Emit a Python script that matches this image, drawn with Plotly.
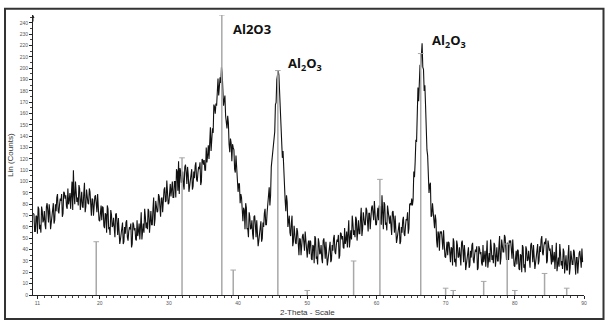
import plotly.graph_objects as go

# --- scan (2-theta start/step and counts), one row per degree ---
two_theta_start = 10.4
two_theta_step = 0.1
counts = [
    72, 71, 56, 56, 70, 69, 54, 78, 76, 58,
    62, 55, 78, 74, 64, 66, 74, 62, 58, 78,
    81, 74, 64, 80, 73, 58, 64, 70, 78, 81,
    63, 66, 80, 74, 86, 89, 74, 72, 80, 85,
    83, 89, 69, 72, 91, 90, 85, 88, 78, 76,
    94, 80, 84, 90, 76, 96, 100, 75, 110, 88,
    80, 100, 93, 82, 86, 79, 97, 94, 75, 83,
    91, 78, 77, 90, 99, 73, 78, 93, 86, 81,
    80, 94, 91, 75, 70, 85, 84, 70, 87, 87,
    88, 74, 73, 89, 76, 66, 65, 76, 79, 66,
    78, 77, 61, 59, 72, 71, 55, 79, 76, 58,
    60, 53, 75, 71, 60, 61, 68, 56, 51, 71,
    72, 64, 53, 68, 60, 45, 49, 54, 62, 64,
    45, 47, 60, 54, 64, 66, 51, 48, 56, 60,
    58, 63, 42, 45, 64, 62, 57, 59, 49, 48,
    66, 52, 56, 63, 49, 70, 73, 49, 56, 63,
    55, 76, 69, 59, 64, 58, 76, 74, 55, 64,
    74, 62, 62, 76, 86, 61, 67, 83, 77, 73,
    74, 89, 87, 72, 69, 85, 86, 73, 92, 93,
    95, 82, 83, 101, 89, 80, 81, 93, 98, 87,
    100, 100, 86, 86, 100, 100, 86, 111, 109, 92,
    118, 89, 112, 109, 99, 101, 109, 97, 93, 113,
    115, 108, 98, 113, 106, 91, 96, 101, 109, 111,
    93, 96, 109, 103, 114, 117, 102, 100, 108, 113,
    111, 117, 97, 100, 120, 119, 115, 119, 110, 110,
    130, 117, 123, 132, 120, 143, 148, 127, 137, 147,
    143, 168, 166, 160, 169, 167, 190, 191, 176, 187,
    192, 187, 201, 196, 183, 167, 172, 176, 158, 153,
    147, 158, 152, 133, 126, 138, 134, 118, 133, 130,
    128, 111, 108, 123, 109, 95, 91, 98, 98, 81,
    89, 86, 68, 65, 77, 75, 58, 81, 77, 58,
    59, 51, 73, 69, 58, 59, 66, 54, 49, 69,
    70, 62, 51, 66, 58, 43, 48, 54, 62, 65,
    47, 50, 64, 60, 72, 76, 62, 62, 73, 82,
    85, 95, 79, 88, 113, 119, 121, 133, 133, 144,
    168, 170, 190, 196, 198, 194, 182, 160, 158, 145,
    121, 127, 106, 88, 84, 74, 88, 82, 60, 65,
    70, 55, 52, 63, 70, 43, 47, 61, 52, 46,
    45, 59, 56, 40, 35, 50, 49, 35, 52, 52,
    54, 40, 39, 56, 44, 34, 33, 44, 48, 36,
    48, 47, 32, 31, 44, 43, 28, 52, 50, 32,
    34, 27, 50, 46, 36, 37, 44, 32, 28, 48,
    50, 42, 32, 47, 40, 26, 31, 36, 44, 47,
    29, 31, 44, 39, 50, 53, 38, 36, 44, 49,
    47, 53, 32, 35, 55, 54, 49, 52, 42, 41,
    59, 45, 49, 56, 42, 63, 66, 42, 50, 57,
    49, 70, 63, 53, 57, 51, 69, 67, 48, 57,
    66, 54, 54, 68, 77, 52, 58, 73, 66, 62,
    62, 77, 75, 60, 56, 72, 72, 58, 76, 77,
    79, 66, 66, 83, 71, 62, 62, 73, 77, 66,
    79, 78, 63, 62, 88, 74, 58, 82, 80, 62,
    64, 57, 79, 74, 63, 63, 70, 58, 53, 73,
    74, 66, 55, 70, 62, 46, 50, 55, 62, 64,
    45, 47, 60, 55, 66, 69, 54, 52, 61, 67,
    66, 73, 54, 59, 80, 81, 79, 85, 79, 84,
    109, 104, 118, 137, 135, 168, 183, 171, 190, 203,
    201, 215, 222, 201, 199, 180, 185, 167, 133, 128,
    123, 100, 90, 97, 99, 69, 70, 81, 70, 62,
    59, 71, 66, 48, 42, 56, 54, 39, 56, 55,
    56, 41, 40, 57, 44, 34, 33, 44, 47, 35,
    47, 46, 30, 29, 42, 41, 26, 50, 47, 29,
    32, 25, 48, 44, 33, 34, 42, 30, 26, 46,
    48, 40, 29, 44, 37, 22, 27, 32, 40, 42,
    24, 26, 39, 33, 44, 46, 31, 28, 36, 40,
    38, 43, 22, 24, 43, 41, 36, 38, 28, 26,
    44, 29, 33, 39, 25, 45, 48, 24, 31, 37,
    29, 49, 42, 31, 35, 28, 46, 44, 25, 33,
    42, 30, 30, 43, 52, 27, 33, 49, 42, 38,
    38, 53, 51, 35, 31, 46, 45, 31, 48, 47,
    48, 33, 32, 49, 36, 26, 25, 36, 39, 27,
    40, 39, 23, 22, 36, 35, 20, 44, 42, 24,
    27, 20, 43, 40, 30, 31, 39, 28, 24, 44,
    46, 39, 29, 44, 37, 23, 28, 34, 42, 45,
    27, 30, 43, 38, 49, 52, 37, 35, 43, 47,
    45, 50, 28, 30, 48, 45, 39, 41, 30, 27,
    44, 29, 32, 38, 23, 43, 46, 21, 27, 33,
    25, 45, 37, 26, 30, 23, 41, 38, 19, 27,
    35, 22, 22, 35, 44, 18, 24, 39, 32, 27,
    27, 40, 38, 22, 18, 33, 33, 19, 37, 37,
    39, 25, 24, 41, 29,
]
two_theta = [round(two_theta_start + two_theta_step * i, 2) for i in range(len(counts))]

# --- reference pattern sticks ---
stick_pos = [19.5, 31.9, 37.65, 39.3, 45.75, 50.0, 56.7, 60.5, 66.4, 70.0, 71.1, 75.5, 78.9, 80.0, 84.3, 87.5]
stick_height = [47, 121, 247, 22, 198, 4, 30, 102, 213, 6, 4, 12, 45, 4, 19, 6]

# --- labels ---
label_texts = ["Al2O3", "Al<sub>2</sub>O<sub>3</sub>", "Al<sub>2</sub>O<sub>3</sub>"]
label_x = [38.95, 46.9, 67.7]
label_y = [235, 203.5, 223.8]

x_ticks = [11, 20, 30, 40, 50, 60, 70, 80, 90]
y_ticks = list(range(0, 241, 10))

stick_x, stick_y = [], []
for p, h in zip(stick_pos, stick_height):
    stick_x += [p, p, None]
    stick_y += [0, h, None]

fig = go.Figure()
fig.add_trace(go.Scatter(x=two_theta, y=counts, mode="lines",
                         line=dict(color="#111111", width=1.1), hoverinfo="skip"))
fig.add_trace(go.Scatter(x=stick_x, y=stick_y, mode="lines",
                         line=dict(color="#a8a8a8", width=1.5), hoverinfo="skip"))
fig.add_trace(go.Scatter(x=stick_pos, y=stick_height, mode="markers",
                         marker=dict(symbol="line-ew", size=4,
                                     line=dict(color="#a8a8a8", width=1)),
                         hoverinfo="skip"))

for t, x, y in zip(label_texts, label_x, label_y):
    fig.add_annotation(x=x, y=y, text="<b>" + t + "</b>", showarrow=False,
                       xanchor="left", yanchor="middle",
                       font=dict(family="Open Sans", size=13, color="#111111"))

fig.add_annotation(xref="paper", yref="paper", x=0.4986, y=-0.063,
                   text="2-Theta - Scale", showarrow=False,
                   xanchor="center", yanchor="middle",
                   font=dict(family="Liberation Sans", size=8, color="#333333"))
fig.add_annotation(xref="paper", yref="paper", x=-0.0417, y=0.5,
                   text="Lin (Counts)", showarrow=False, textangle=-90,
                   xanchor="center", yanchor="middle",
                   font=dict(family="Liberation Sans", size=8, color="#333333"))
# small arrow head at the top of the y axis
fig.add_annotation(xref="paper", yref="paper", x=0, y=1.0, ax=0, ay=8,
                   text="", showarrow=True, arrowhead=2, arrowsize=0.6,
                   arrowwidth=1, arrowcolor="#222222")

fig.add_shape(type="rect", xref="paper", yref="paper",
              x0=-0.0508, x1=1.0354, y0=-0.0857, y1=1.022,
              line=dict(color="#333333", width=2))

fig.update_layout(
    width=610, height=320,
    margin=dict(l=33, r=26, t=15, b=25),
    paper_bgcolor="white", plot_bgcolor="white",
    showlegend=False,
    font=dict(family="Liberation Sans", size=5, color="#555555"),
)
fig.update_xaxes(range=[10.36, 90.0], tickmode="array", tickvals=x_ticks,
                 showgrid=False, zeroline=False, showline=True,
                 linecolor="#222222", linewidth=1,
                 ticks="outside", ticklen=3, tickcolor="#222222",
                 tickfont=dict(size=5, color="#555555"),
                 minor=dict(tick0=0, dtick=1, ticks="outside", ticklen=2,
                            tickcolor="#444444"))
fig.update_yaxes(range=[0, 247], tickmode="array", tickvals=y_ticks,
                 showgrid=False, zeroline=False, showline=True,
                 linecolor="#222222", linewidth=1,
                 ticks="outside", ticklen=3, tickcolor="#222222",
                 tickfont=dict(size=5, color="#555555"),
                 minor=dict(tick0=0, dtick=5, ticks="outside", ticklen=2,
                            tickcolor="#444444"))

fig.write_html("out.html", config={"displayModeBar": False},
               post_script="document.body.style.margin='0';")
